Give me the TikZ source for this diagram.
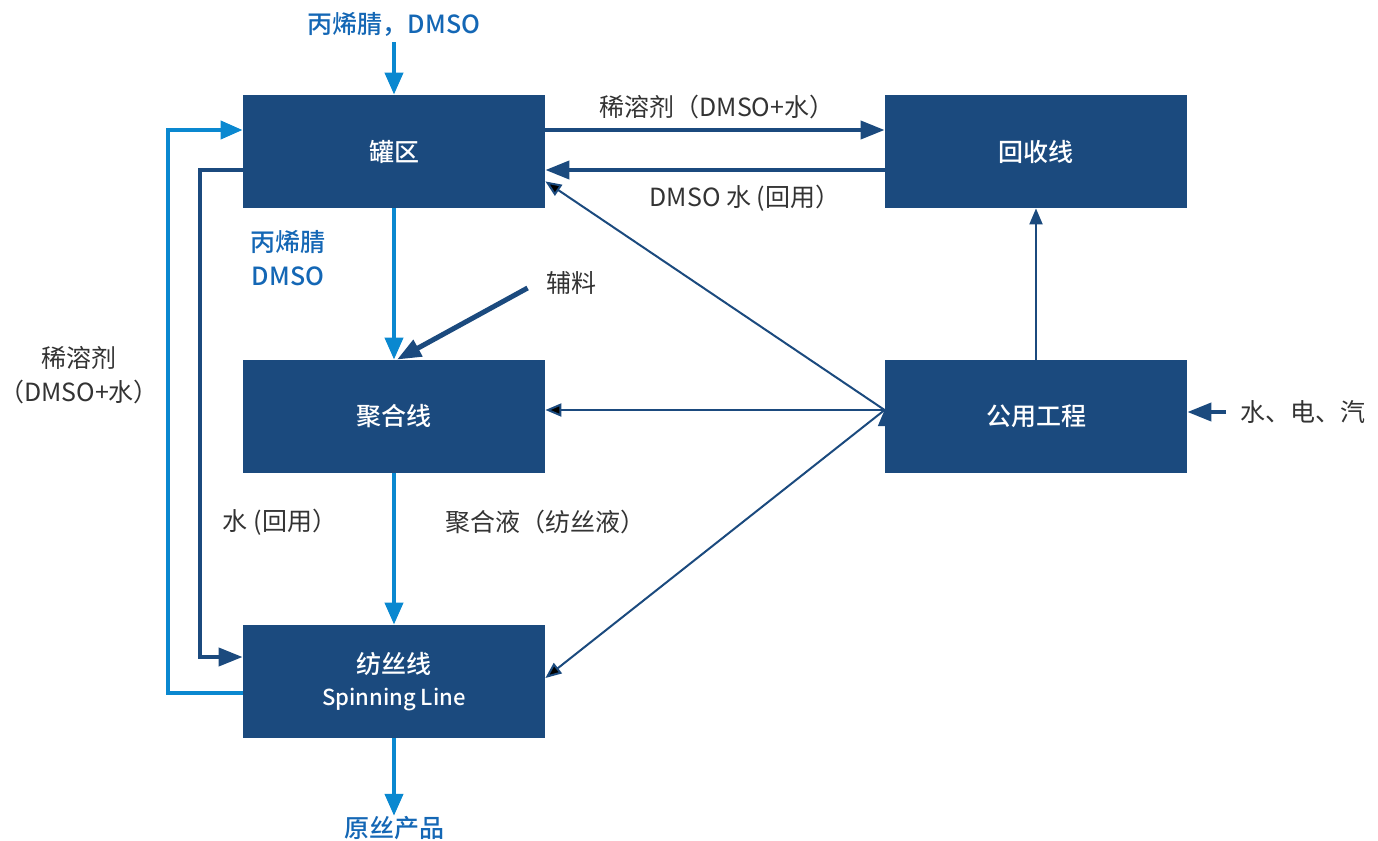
\documentclass[tikz,border=0pt]{standalone}
\usepackage{fontspec}
\setmainfont{Noto Sans CJK SC}[BoldFont={Noto Sans CJK SC Medium}]
\usetikzlibrary{arrows.meta}
\definecolor{boxblue}{HTML}{1B4A7E}
\definecolor{flowblue}{HTML}{0A88D0}
\definecolor{tagblue}{HTML}{1467B5}
\definecolor{tagtext}{HTML}{333333}

\begin{document}
\begin{tikzpicture}[x=0.5pt,y=-0.5pt,
    unit node/.style={rectangle, fill=boxblue, text=white, minimum width=151pt,
                      minimum height=56.5pt, inner sep=0pt, align=center,
                      font=\bfseries\fontsize{12.5}{15}\selectfont},
    tag/.style={text=tagtext, inner sep=0pt, align=center,
                font=\fontsize{12.5}{17}\selectfont},
    feed tag/.style={text=tagblue, inner sep=0pt, align=center,
                     font=\bfseries\fontsize{12.5}{17}\selectfont},
    feed/.style={draw=flowblue, line width=2pt, -{Triangle[length=11pt,width=9pt]}},
    main flow/.style={draw=boxblue, line width=2pt, -{Triangle[length=12pt,width=9pt]}},
    service/.style={draw=boxblue, line width=1pt, -{Triangle[length=8pt,width=6.5pt]}}]

  \useasboundingbox (0,0) rectangle (1378,841);

  %Units%
  \node[unit node] (tank) at (394,151.5) {罐区};
  \node[unit node] (recover) at (1036,151.5) {回收线};
  \node[unit node] (poly) at (394,416.5) {聚合线};
  \node[unit node] (utility) at (1036,416.5) {公用工程};
  \node[unit node] (spin) at (394,681.5) {纺丝线\\[1pt]{\fontsize{11}{13}\selectfont Spinning Line}};

  %Labels%
  \node[feed tag] (rawin) at (394,24) {丙烯腈，DMSO};
  \node[feed tag] (rawdown) at (288,258) {丙烯腈\\DMSO};
  \node[feed tag] (product) at (394,828) {原丝产品};
  \node[tag] (solvent) at (717,107) {稀溶剂（DMSO+水）};
  \node[tag] (reuse) at (745,198) {DMSO 水 (回用）};
  \node[tag] (additive) at (571,283) {辅料};
  \node[tag] (dope) at (545,522) {聚合液（纺丝液）};
  \node[tag] (water) at (280,522) {水 (回用）};
  \node[tag] (loopsolvent) at (79,375) {稀溶剂\\（DMSO+水）};
  \node[tag, anchor=west] (supply) at (1240,412) {水、电、汽};

  %Feed line%
  \coordinate (rawtop) at (394,42);
  \draw[feed] (rawtop) -- (tank);
  \draw[feed] (tank) -- (poly);
  \draw[feed] (poly) -- (spin);
  \draw[feed] (spin) -- (product);
  \draw[feed] ([yshift=-5.75pt]spin.west) -- ++(-37.5pt,0)
              |- ([yshift=10.75pt]tank.west);

  %Recovery%
  \draw[main flow] ([yshift=10.75pt]tank.east) -- ([yshift=10.75pt]recover.west);
  \draw[main flow] ([yshift=-9.25pt]recover.west) -- ([yshift=-9.25pt]tank.east);
  \draw[main flow] ([yshift=-9.25pt]tank.west) -- ++(-21.5pt,0)
                   |- ([yshift=12.25pt]spin.west);
  \draw[main flow, line width=2.5pt] ([xshift=-9pt,yshift=-2.5pt]additive.west)
                   -- ([xshift=1.5pt]poly.north);
  \draw[main flow] ([xshift=-7pt]supply.west) -- (utility.east |- supply.west);

  %Utilities%
  \path[service]
    ([yshift=3.25pt]utility.west) edge ([yshift=13.5pt]tank.south east)
                                  edge ([yshift=3.25pt]poly.east)
                                  edge ([yshift=1.75pt]spin.east);
  \draw[service] (utility) -- (recover);
\end{tikzpicture}
\end{document}
